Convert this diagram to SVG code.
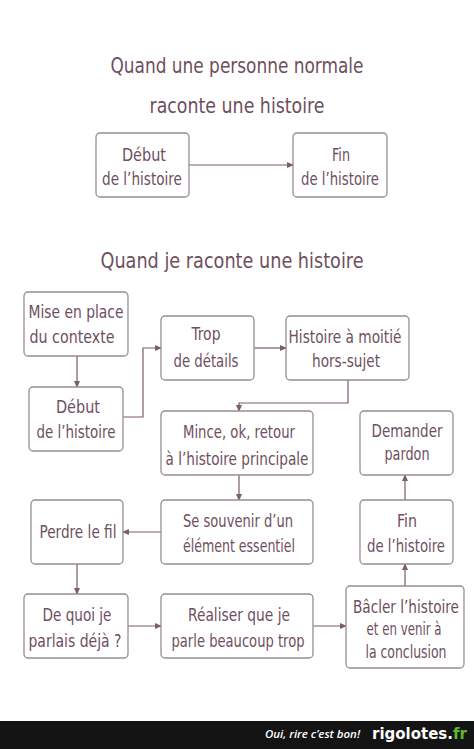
<svg xmlns="http://www.w3.org/2000/svg" width="474" height="749" viewBox="0 0 474 749">
<style>
.t{font-family:"DejaVu Sans Condensed","Liberation Sans","Noto Sans",sans-serif;fill:#6e4f60;text-anchor:middle;font-size:17px}
.h{font-size:22px}
.b{fill:#fff;stroke:#978c92;stroke-width:1.3}
.c{fill:none;stroke:#7b5d6c;stroke-width:1.2}
</style>
<defs>
<marker id="a" viewBox="0 0 8 8" refX="7" refY="4" markerWidth="7" markerHeight="7" markerUnits="userSpaceOnUse" orient="auto">
<path d="M0,0.5 L8,4 L0,7.5 Z" fill="#7b5d6c"/>
</marker>
<linearGradient id="lg" gradientUnits="userSpaceOnUse" x1="372" y1="0" x2="468" y2="0">
<stop offset="0" stop-color="#fff"/>
<stop offset="0.83" stop-color="#fff"/>
<stop offset="0.83" stop-color="#5fb832"/>
<stop offset="1" stop-color="#5fb832"/>
</linearGradient>
</defs>
<rect width="474" height="749" fill="#fff"/>
<g id="titles">
<text class="t h" x="237" y="73" textLength="253" lengthAdjust="spacingAndGlyphs">Quand une personne normale</text>
<text class="t h" x="237" y="113" textLength="175" lengthAdjust="spacingAndGlyphs">raconte une histoire</text>
<text class="t h" x="232" y="268" textLength="263" lengthAdjust="spacingAndGlyphs">Quand je raconte une histoire</text>
</g>
<g id="connectors">
<path class="c" d="M189,165 H293" marker-end="url(#a)"/>
<path class="c" d="M77,356 V387" marker-end="url(#a)"/>
<path class="c" d="M123,417 H143 V348 H161" marker-end="url(#a)"/>
<path class="c" d="M254,348 H286" marker-end="url(#a)"/>
<path class="c" d="M348,380 V403 H239 V411" marker-end="url(#a)"/>
<path class="c" d="M239,475 V500" marker-end="url(#a)"/>
<path class="c" d="M161,532 H123" marker-end="url(#a)"/>
<path class="c" d="M77,564 V594" marker-end="url(#a)"/>
<path class="c" d="M128,626 H161" marker-end="url(#a)"/>
<path class="c" d="M313,626 H346" marker-end="url(#a)"/>
<path class="c" d="M405,586 V564" marker-end="url(#a)"/>
<path class="c" d="M405,500 V475" marker-end="url(#a)"/>
</g>
<g id="n-debut1">
<rect class="b" x="96" y="133" width="93" height="64" rx="4"/>
<text class="t" x="144" y="161" textLength="44" lengthAdjust="spacingAndGlyphs">Début</text>
<text class="t" x="142" y="185" textLength="80" lengthAdjust="spacingAndGlyphs">de l’histoire</text>
</g>
<g id="n-fin1">
<rect class="b" x="293" y="133" width="94" height="64" rx="4"/>
<text class="t" x="341" y="161" textLength="18" lengthAdjust="spacingAndGlyphs">Fin</text>
<text class="t" x="340" y="185" textLength="78" lengthAdjust="spacingAndGlyphs">de l’histoire</text>
</g>
<g id="n-mise">
<rect class="b" x="24" y="292" width="104" height="64" rx="4"/>
<text class="t" x="76" y="318" textLength="95" lengthAdjust="spacingAndGlyphs">Mise en place</text>
<text class="t" x="72" y="343" textLength="85" lengthAdjust="spacingAndGlyphs">du contexte</text>
</g>
<g id="n-debut2">
<rect class="b" x="29" y="387" width="94" height="64" rx="4"/>
<text class="t" x="78" y="413" textLength="44" lengthAdjust="spacingAndGlyphs">Début</text>
<text class="t" x="76" y="438" textLength="79" lengthAdjust="spacingAndGlyphs">de l’histoire</text>
</g>
<g id="n-trop">
<rect class="b" x="161" y="316" width="93" height="64" rx="4"/>
<text class="t" x="206" y="340" textLength="29" lengthAdjust="spacingAndGlyphs">Trop</text>
<text class="t" x="206" y="367" textLength="65" lengthAdjust="spacingAndGlyphs">de détails</text>
</g>
<g id="n-horssujet">
<rect class="b" x="286" y="316" width="123" height="64" rx="4"/>
<text class="t" x="345" y="343" textLength="113" lengthAdjust="spacingAndGlyphs">Histoire à moitié</text>
<text class="t" x="346" y="367" textLength="68" lengthAdjust="spacingAndGlyphs">hors-sujet</text>
</g>
<g id="n-mince">
<rect class="b" x="161" y="411" width="152" height="64" rx="4"/>
<text class="t" x="239" y="438" textLength="112" lengthAdjust="spacingAndGlyphs">Mince, ok, retour</text>
<text class="t" x="237" y="465" textLength="143" lengthAdjust="spacingAndGlyphs">à l’histoire principale</text>
</g>
<g id="n-pardon">
<rect class="b" x="360" y="411" width="93" height="64" rx="4"/>
<text class="t" x="407" y="437" textLength="71" lengthAdjust="spacingAndGlyphs">Demander</text>
<text class="t" x="407" y="460" textLength="45" lengthAdjust="spacingAndGlyphs">pardon</text>
</g>
<g id="n-perdre">
<rect class="b" x="31" y="500" width="92" height="64" rx="4"/>
<text class="t" x="78" y="538" textLength="77" lengthAdjust="spacingAndGlyphs">Perdre le fil</text>
</g>
<g id="n-souvenir">
<rect class="b" x="161" y="500" width="152" height="64" rx="4"/>
<text class="t" x="238" y="527" textLength="110" lengthAdjust="spacingAndGlyphs">Se souvenir d’un</text>
<text class="t" x="239" y="552" textLength="112" lengthAdjust="spacingAndGlyphs">élément essentiel</text>
</g>
<g id="n-fin2">
<rect class="b" x="360" y="500" width="93" height="64" rx="4"/>
<text class="t" x="407" y="527" textLength="20" lengthAdjust="spacingAndGlyphs">Fin</text>
<text class="t" x="406" y="552" textLength="78" lengthAdjust="spacingAndGlyphs">de l’histoire</text>
</g>
<g id="n-dequoi">
<rect class="b" x="24" y="594" width="104" height="64" rx="4"/>
<text class="t" x="77" y="621" textLength="69" lengthAdjust="spacingAndGlyphs">De quoi je</text>
<text class="t" x="75" y="647" textLength="93" lengthAdjust="spacingAndGlyphs">parlais déjà ?</text>
</g>
<g id="n-realiser">
<rect class="b" x="161" y="594" width="152" height="64" rx="4"/>
<text class="t" x="239" y="621" textLength="102" lengthAdjust="spacingAndGlyphs">Réaliser que je</text>
<text class="t" x="238" y="647" textLength="133" lengthAdjust="spacingAndGlyphs">parle beaucoup trop</text>
</g>
<g id="n-bacler">
<rect class="b" x="346" y="586" width="118" height="82" rx="4"/>
<text class="t" x="406" y="613" textLength="106" lengthAdjust="spacingAndGlyphs">Bâcler l’histoire</text>
<text class="t" x="404" y="635" textLength="75" lengthAdjust="spacingAndGlyphs">et en venir à</text>
<text class="t" x="406" y="658" textLength="81" lengthAdjust="spacingAndGlyphs">la conclusion</text>
</g>
<g id="footer">
<rect x="0" y="721" width="474" height="28" fill="#141414"/>
<text x="265" y="738" font-family="'Open Sans','DejaVu Sans',sans-serif" font-style="italic" font-weight="600" font-size="11" fill="#fff" textLength="95" lengthAdjust="spacingAndGlyphs">Oui, rire c’est bon!</text>
<text x="372" y="739" font-family="'DejaVu Sans','Liberation Sans',sans-serif" font-weight="bold" font-size="15" fill="url(#lg)">rigolotes.fr</text>
</g>
</svg>
